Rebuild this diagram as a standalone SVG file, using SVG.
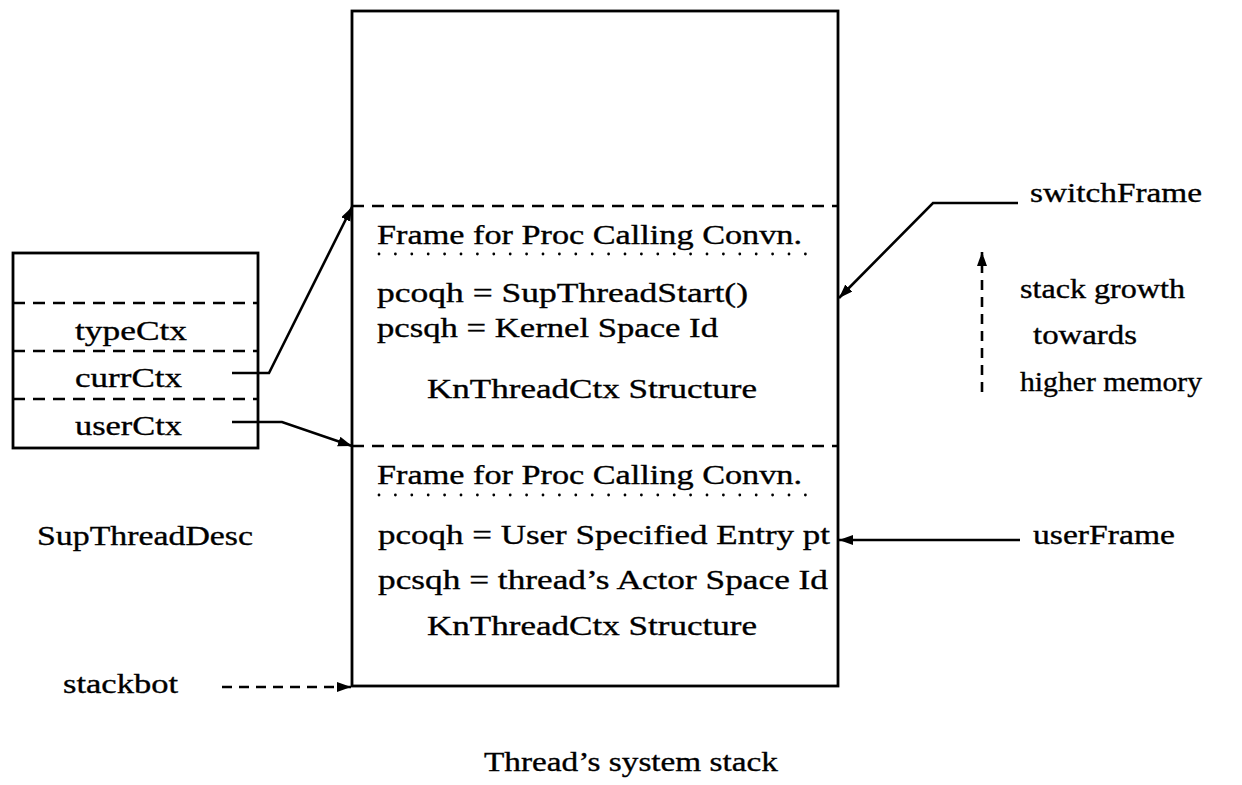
<svg xmlns="http://www.w3.org/2000/svg" width="1242" height="785" viewBox="0 0 1242 785">
  <defs>
    <marker id="arrow" markerUnits="userSpaceOnUse" markerWidth="16" markerHeight="12" refX="14" refY="5" orient="auto">
      <path d="M0,0 L14,5 L0,10 Z" fill="#000"/>
    </marker>
    <style>
      text { font-family: "Liberation Serif", "Times New Roman", serif; font-size: 28px; fill: #000; stroke: #000; stroke-width: 0.35; }
      .box { fill: #fff; stroke: #000; stroke-width: 2.8; }
      .sep { stroke: #000; stroke-width: 2.6; stroke-dasharray: 12 8; fill: none; }
      .dots { stroke: #000; stroke-width: 2.8; stroke-linecap: round; stroke-dasharray: 0 16.4; fill: none; }
      .wire { stroke: #000; stroke-width: 2.6; fill: none; marker-end: url(#arrow); }
      .dwire { stroke: #000; stroke-width: 2.6; fill: none; stroke-dasharray: 10 7; marker-end: url(#arrow); }
    </style>
  </defs>

  <!-- Thread descriptor record -->
  <g id="supThreadDesc">
    <rect class="box" x="13" y="253" width="245" height="195"/>
    <line class="sep" x1="13" y1="303" x2="258" y2="303"/>
    <line class="sep" x1="13" y1="351" x2="258" y2="351"/>
    <line class="sep" x1="13" y1="399" x2="258" y2="399"/>
    <text x="75" y="340" textLength="112" lengthAdjust="spacingAndGlyphs">typeCtx</text>
    <text x="75" y="387" textLength="107" lengthAdjust="spacingAndGlyphs">currCtx</text>
    <text x="75" y="435" textLength="107" lengthAdjust="spacingAndGlyphs">userCtx</text>
    <text x="37" y="545" textLength="216" lengthAdjust="spacingAndGlyphs">SupThreadDesc</text>
  </g>

  <!-- System stack -->
  <g id="systemStack">
    <rect class="box" x="352" y="11" width="486" height="675"/>
    <line class="sep" x1="352" y1="206" x2="838" y2="206"/>
    <line class="sep" x1="352" y1="446" x2="838" y2="446"/>
    <text x="484" y="771" textLength="294" lengthAdjust="spacingAndGlyphs">Thread’s system stack</text>
  </g>

  <!-- Kernel-side frame -->
  <g id="kernelFrame">
    <text x="377" y="244" textLength="425" lengthAdjust="spacingAndGlyphs">Frame for Proc Calling Convn.</text>
    <line class="dots" x1="379" y1="254" x2="818" y2="254"/>
    <text x="377" y="302" textLength="371" lengthAdjust="spacingAndGlyphs">pcoqh = SupThreadStart()</text>
    <text x="377" y="337" textLength="341" lengthAdjust="spacingAndGlyphs">pcsqh = Kernel Space Id</text>
    <text x="427" y="398" textLength="330" lengthAdjust="spacingAndGlyphs">KnThreadCtx Structure</text>
  </g>

  <!-- User-side frame -->
  <g id="userFrameBlock">
    <text x="377" y="484" textLength="425" lengthAdjust="spacingAndGlyphs">Frame for Proc Calling Convn.</text>
    <line class="dots" x1="379" y1="495" x2="818" y2="495"/>
    <text x="378" y="544" textLength="452" lengthAdjust="spacingAndGlyphs">pcoqh = User Specified Entry pt</text>
    <text x="378" y="589" textLength="450" lengthAdjust="spacingAndGlyphs">pcsqh = thread’s Actor Space Id</text>
    <text x="427" y="635" textLength="330" lengthAdjust="spacingAndGlyphs">KnThreadCtx Structure</text>
  </g>

  <!-- Side labels -->
  <g id="switchFrame">
    <text x="1030" y="202" textLength="172" lengthAdjust="spacingAndGlyphs">switchFrame</text>
  </g>
  <g id="userFrame">
    <text x="1033" y="544" textLength="142" lengthAdjust="spacingAndGlyphs">userFrame</text>
  </g>
  <g id="stackbot">
    <text x="63" y="693" textLength="115" lengthAdjust="spacingAndGlyphs">stackbot</text>
  </g>
  <g id="stackGrowth">
    <text x="1020" y="298" textLength="165" lengthAdjust="spacingAndGlyphs">stack growth</text>
    <text x="1033" y="344" textLength="104" lengthAdjust="spacingAndGlyphs">towards</text>
    <text x="1020" y="391" textLength="182" lengthAdjust="spacingAndGlyphs">higher memory</text>
  </g>

  <!-- Connectors -->
  <g id="connectors">
    <polyline class="wire" points="232,373 269,373 352,207"/>
    <polyline class="wire" points="232,422 282,422 352,446"/>
    <polyline class="wire" points="1018,203 933,203 839,298"/>
    <line class="wire" x1="1020" y1="540" x2="839" y2="540"/>
    <line class="dwire" x1="222" y1="687" x2="351" y2="687"/>
    <line class="dwire" x1="982" y1="392" x2="982" y2="252"/>
  </g>
</svg>
